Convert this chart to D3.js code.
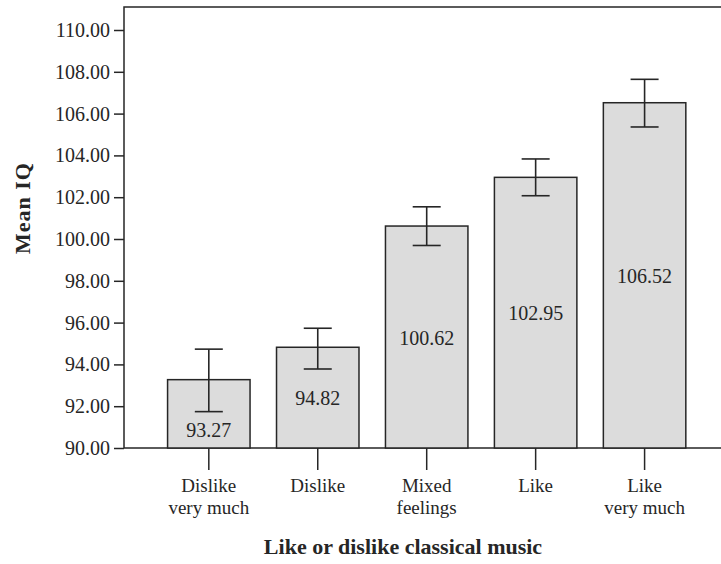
<!DOCTYPE html>
<html>
<head>
<meta charset="utf-8">
<script src="https://cdn.jsdelivr.net/npm/d3@7"></script>
<style>
  html, body { margin: 0; padding: 0; background: #fff; }
  svg { display: block; }
  text { font-family: "Liberation Serif", "DejaVu Serif", serif; fill: #262626; }
</style>
</head>
<body>
<svg id="chart" width="721" height="564"></svg>
<script>
// Mean IQ by liking of classical music, with 95% CI error bars
const categories = [["Dislike", "very much"], ["Dislike"], ["Mixed", "feelings"], ["Like"], ["Like", "very much"]];
const means = [93.27, 94.82, 100.62, 102.95, 106.52];
const ciLower = [91.74, 93.78, 99.69, 102.07, 105.36];
const ciUpper = [94.73, 95.73, 101.54, 103.83, 107.64];
const yTicks = [90, 92, 94, 96, 98, 100, 102, 104, 106, 108, 110];

const svg = d3.select("#chart");
const frame = { left: 124, top: 7, right: 729.4, bottom: 448 };

const x = d3.scaleBand()
  .domain(d3.range(categories.length))
  .range([frame.left, frame.right])
  .paddingInner(0.243)
  .paddingOuter(0.4);

const y = d3.scaleLinear()
  .domain([90, 110])
  .range([frame.bottom, 30]);

const ink = "#262626";

// plot frame
svg.append("rect")
  .attr("x", frame.left).attr("y", frame.top)
  .attr("width", frame.right - frame.left)
  .attr("height", frame.bottom - frame.top)
  .attr("fill", "none").attr("stroke", ink).attr("stroke-width", 1.5);

// bars
svg.append("g").selectAll("rect")
  .data(means)
  .join("rect")
  .attr("x", (d, i) => x(i))
  .attr("y", d => y(d))
  .attr("width", x.bandwidth())
  .attr("height", d => y(90) - y(d))
  .attr("fill", "#dcdcdc")
  .attr("stroke", ink)
  .attr("stroke-width", 1.5);

// error bars
const capHalf = 14;
const eb = svg.append("g").attr("stroke", ink).attr("stroke-width", 1.6);
means.forEach((m, i) => {
  const cx = x(i) + x.bandwidth() / 2;
  eb.append("line").attr("x1", cx).attr("x2", cx).attr("y1", y(ciLower[i])).attr("y2", y(ciUpper[i]));
  eb.append("line").attr("x1", cx - capHalf).attr("x2", cx + capHalf).attr("y1", y(ciUpper[i])).attr("y2", y(ciUpper[i]));
  eb.append("line").attr("x1", cx - capHalf).attr("x2", cx + capHalf).attr("y1", y(ciLower[i])).attr("y2", y(ciLower[i]));
});

// value labels inside the bars, moved below the error bar when they would collide
svg.append("g").selectAll("text")
  .data(means)
  .join("text")
  .attr("x", (d, i) => x(i) + x.bandwidth() / 2)
  .attr("y", (d, i) => {
    const base = y(90);
    let mid = (y(d) + base) / 2;
    if (y(ciLower[i]) > mid - 14) mid = (y(ciLower[i]) + base) / 2;
    return mid;
  })
  .attr("dy", "0.38em")
  .attr("text-anchor", "middle")
  .attr("font-size", 20)
  .text(d => d.toFixed(2));

// y axis
const yAxis = svg.append("g")
  .attr("transform", `translate(${frame.left},0)`)
  .call(d3.axisLeft(y).tickValues(yTicks).tickFormat(d3.format(".2f")).tickSize(10).tickPadding(4));
yAxis.select(".domain").remove();
yAxis.selectAll("line").attr("stroke", ink).attr("stroke-width", 1.5);
yAxis.selectAll("text").attr("font-size", 20).attr("fill", ink)
  .attr("font-family", "Liberation Serif, DejaVu Serif, serif");

// x axis ticks and two-line category labels
const xAxis = svg.append("g")
  .attr("transform", `translate(0,${frame.bottom})`)
  .call(d3.axisBottom(x).tickSize(22).tickFormat(""));
xAxis.select(".domain").remove();
xAxis.selectAll("line").attr("stroke", ink).attr("stroke-width", 1.5);

svg.append("g").selectAll("text")
  .data(categories)
  .join("text")
  .attr("x", (d, i) => x(i) + x.bandwidth() / 2)
  .attr("y", 492)
  .attr("text-anchor", "middle")
  .attr("font-size", 19)
  .each(function(lines) {
    const t = d3.select(this);
    lines.forEach((ln, k) => {
      t.append("tspan")
        .attr("x", t.attr("x"))
        .attr("dy", k === 0 ? 0 : 21.5)
        .text(ln);
    });
  });

// axis titles
svg.append("text")
  .attr("x", 403).attr("y", 554)
  .attr("text-anchor", "middle")
  .attr("font-size", 22).attr("font-weight", "bold")
  .text("Like or dislike classical music");

svg.append("text")
  .attr("transform", "translate(30,208) rotate(-90)")
  .attr("text-anchor", "middle")
  .attr("font-size", 22).attr("font-weight", "bold")
  .attr("letter-spacing", 1)
  .text("Mean IQ");
</script>
</body>
</html>
